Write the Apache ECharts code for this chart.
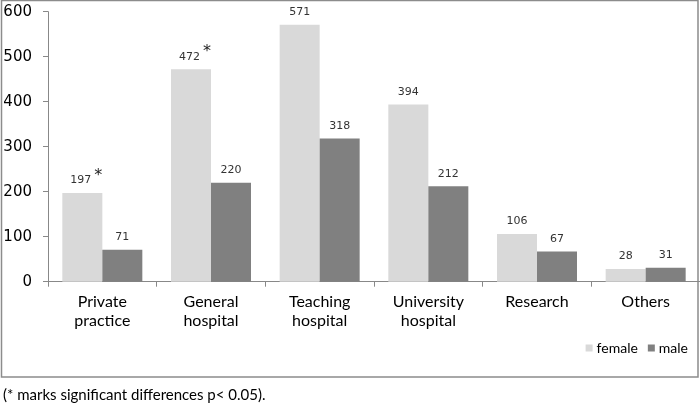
<!DOCTYPE html>
<html>
<head>
<meta charset="utf-8">
<script src="https://cdn.jsdelivr.net/npm/echarts@6/dist/echarts.min.js"></script>
<style>
    html, body { margin: 0; padding: 0; background: #ffffff; }
    #chart { width: 700px; height: 407px; }
</style>
</head>
<body>
<div id="chart"></div>
<script>
    // data
    var categories = ['Private\npractice', 'General\nhospital', 'Teaching\nhospital', 'University\nhospital', 'Research', 'Others'];
    var female = [197, 472, 571, 394, 106, 28];
    var male = [71, 220, 318, 212, 67, 31];
    var femaleSignificant = [true, true, false, false, false, false];
    var yTicks = [0, 100, 200, 300, 400, 500, 600];
    var footnote = '(* marks significant differences p< 0.05).';

    var chart = echarts.init(document.getElementById('chart'));

    var options = {
        animation: false,
        backgroundColor: '#ffffff',
        grid: {
            left: 48,
            right: 0,
            top: 11.7,
            bottom: 125.3,
            containLabel: false
        },
        legend: {
            data: ['female', 'male'],
            right: 7,
            top: 336,
            itemWidth: 7,
            itemHeight: 7,
            itemGap: 10,
            icon: 'rect',
            textStyle: {
                fontFamily: 'Lato',
                fontSize: 14,
                color: '#000000',
                padding: [0, 0, 0, -1]
            }
        },
        xAxis: [
            {
                type: 'category',
                data: categories,
                axisLine: { lineStyle: { color: '#888888', width: 1 } },
                axisTick: { show: true, length: 5, lineStyle: { color: '#888888' } },
                axisLabel: {
                    fontFamily: 'Lato',
                    fontSize: 16,
                    lineHeight: 19,
                    color: '#000000',
                    margin: 11
                }
            }
        ],
        yAxis: [
            {
                type: 'value',
                min: yTicks[0],
                max: yTicks[yTicks.length - 1],
                interval: 100,
                splitLine: { show: false },
                axisLine: { show: true, lineStyle: { color: '#888888', width: 1 } },
                axisTick: { show: true, length: 5, lineStyle: { color: '#888888' } },
                axisLabel: {
                    fontFamily: 'DejaVu Sans',
                    fontSize: 15,
                    color: '#000000',
                    margin: 16
                }
            }
        ],
        series: [
            {
                name: 'female',
                type: 'bar',
                data: female,
                barWidth: 40,
                barGap: '0%',
                itemStyle: { color: '#d9d9d9' },
                label: {
                    show: true,
                    position: 'top',
                    distance: 7,
                    formatter: function (p) {
                        if (femaleSignificant[p.dataIndex]) {
                            return '{p| }{v|' + p.value + '}{s|*}';
                        }
                        return '{v|' + p.value + '}';
                    },
                    rich: {
                        p: { width: 8, fontSize: 11, lineHeight: 12, verticalAlign: 'bottom' },
                        v: { fontFamily: 'DejaVu Sans', fontSize: 11, color: '#333333', lineHeight: 12, verticalAlign: 'bottom' },
                        s: { fontFamily: 'DejaVu Sans', fontSize: 16, color: '#222222', lineHeight: 18, verticalAlign: 'top', padding: [0, 0, 0, 3] }
                    }
                }
            },
            {
                name: 'male',
                type: 'bar',
                data: male,
                barWidth: 40,
                itemStyle: { color: '#808080' },
                label: {
                    show: true,
                    position: 'top',
                    distance: 7,
                    fontFamily: 'DejaVu Sans',
                    fontSize: 11,
                    color: '#333333'
                }
            }
        ],
        graphic: [
            {
                type: 'rect',
                silent: true,
                shape: { x: 1.5, y: 0.5, width: 696.5, height: 376.5 },
                style: { fill: 'none', stroke: '#8c8c8c', lineWidth: 1.5 }
            },
            {
                type: 'text',
                left: 3,
                top: 388,
                style: {
                    text: footnote,
                    fontFamily: 'Lato',
                    fontSize: 15,
                    fill: '#000000'
                }
            }
        ]
    };

    chart.setOption(options);
</script>
</body>
</html>
